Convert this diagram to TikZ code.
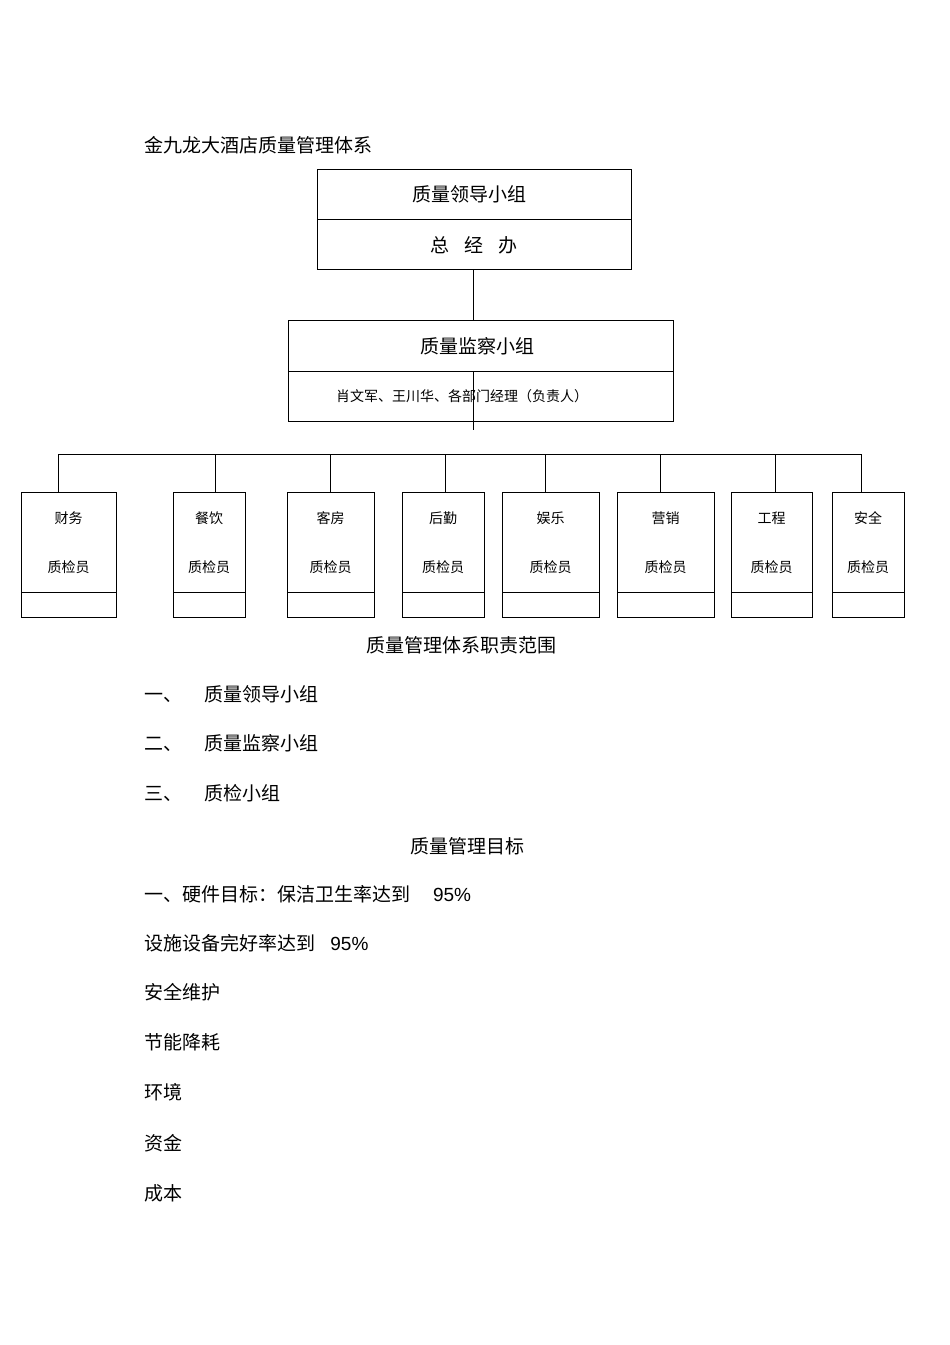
\documentclass[tikz,border=0pt]{standalone}
\usepackage{fontspec}
\setmainfont{Liberation Sans}
\newfontfamily\cjk{Noto Sans CJK SC}
\begin{document}
\begin{tikzpicture}[x=1pt,y=-1pt,
  bx/.style={draw,line width=0.8pt},
  ln/.style={line width=0.8pt},
  big/.style={font=\cjk\fontsize{19}{22}\selectfont,inner sep=0},
  sm/.style={font=\cjk\fontsize{14}{16}\selectfont,inner sep=0},
  lt/.style={font=\cjk\fontsize{19}{22}\selectfont,inner sep=0,anchor=west}]
\useasboundingbox (0,0) rectangle (950,1345);
\node[lt] (title) at (144,145) {金九龙大酒店质量管理体系};
\draw[bx] (317,169) rectangle (631,269); \draw[ln] (317,219)--(631,219);
\node[big] (t1) at (469,194) {质量领导小组};
\node[big] (t2) at (474,245) {总\hspace{0.8em}经\hspace{0.8em}办};
\coordinate (a1) at (473,269); \coordinate (a2) at (473,320);
\draw[ln] (a1)--(a2);
\draw[bx] (288,320) rectangle (673,421); \draw[ln] (288,371)--(673,371);
\node[big] (m1) at (477,346) {质量监察小组};
\node[sm] (m2) at (462,396) {肖文军、王川华、各部门经理（负责人）};
\coordinate (b1) at (473,371); \coordinate (b2) at (473,430);
\draw[ln] (b1)--(b2);
\coordinate (bl) at (58,454); \coordinate (br) at (861,454);
\draw[ln] (bl)--(br);
\foreach \dx/\l/\r/\t/\n in {58/21/116/财务/d1,215/173/245/餐饮/d2,330/287/374/客房/d3,445/402/484/后勤/d4,545/502/599/娱乐/d5,660/617/714/营销/d6,775/731/812/工程/d7,861/832/904/安全/d8}{
  \draw[ln] (\dx,454)--(\dx,492);
  \draw[bx] (\l,492) rectangle (\r,617); \draw[ln] (\l,592)--(\r,592);
  \node[sm] (\n a) at ({(\l+\r)/2},518) {\t};
  \node[sm] (\n b) at ({(\l+\r)/2},567) {质检员};
}
\node[big] (h1) at (461,645) {质量管理体系职责范围};
\node[lt] at (144,694) {一、\hspace{1.2em}质量领导小组};
\node[lt] at (144,743) {二、\hspace{1.2em}质量监察小组};
\node[lt] at (144,793) {三、\hspace{1.2em}质检小组};
\node[big] (h2) at (467,846) {质量管理目标};
\node[lt] at (144,894) {一、硬件目标：保洁卫生率达到\hspace{1.2em}{\rmfamily 95\%}};
\node[lt] at (144,943) {设施设备完好率达到\hspace{0.8em}{\rmfamily 95\%}};
\node[lt] at (144,992) {安全维护};
\node[lt] at (144,1042) {节能降耗};
\node[lt] at (144,1092) {环境};
\node[lt] at (144,1143) {资金};
\node[lt] at (144,1193) {成本};
\end{tikzpicture}
\end{document}
